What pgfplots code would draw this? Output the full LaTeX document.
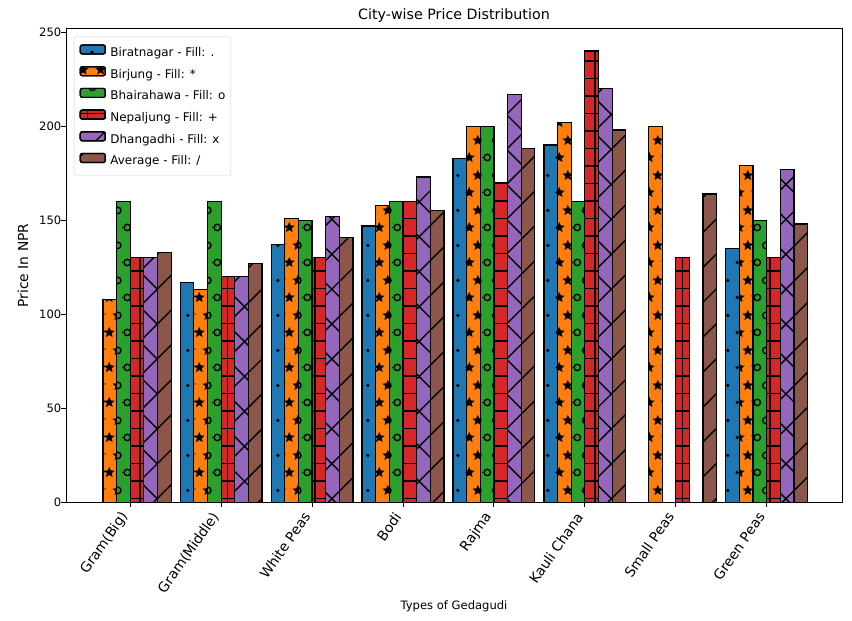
\documentclass[border=0pt]{standalone}
\usepackage{pgfplots}
\pgfplotsset{compat=1.18}
\usepackage{fontspec}
\setmainfont{DejaVu Sans}
\usetikzlibrary{patterns,patterns.meta}

\definecolor{tabblue}{HTML}{1F77B4}
\definecolor{taborange}{HTML}{FF7F0E}
\definecolor{tabgreen}{HTML}{2CA02C}
\definecolor{tabred}{HTML}{D62728}
\definecolor{tabpurple}{HTML}{9467BD}
\definecolor{tabbrown}{HTML}{8C564B}

% matplotlib-like hatches: staggered rows 17.5bp apart
\tikzdeclarepattern{
  name=hdots, type=uncolored,
  bottom left={(0bp,0bp)}, top right={(17.5bp,35bp)},
  tile size={(17.5bp,35bp)},
  code={
    \foreach \dx in {-17.5,0,17.5} {
      \fill (\dx bp+4.4bp,8.75bp) circle (1.9bp);
      \fill (\dx bp+13.15bp,26.25bp) circle (1.9bp);
    }
  }
}
\tikzdeclarepattern{
  name=hcircles, type=uncolored,
  bottom left={(0bp,0bp)}, top right={(17.5bp,35bp)},
  tile size={(17.5bp,35bp)},
  code={
    \foreach \dx in {-17.5,0,17.5} {
      \draw[line width=1.4bp] (\dx bp+4.4bp,8.75bp) circle (3.3bp);
      \draw[line width=1.4bp] (\dx bp+13.15bp,26.25bp) circle (3.3bp);
    }
  }
}
\tikzdeclarepattern{
  name=hstars, type=uncolored,
  bottom left={(0bp,0bp)}, top right={(17.5bp,35bp)},
  tile size={(17.5bp,35bp)},
  code={
    \foreach \dx/\dy in {-17.5/8.75,0/8.75,17.5/8.75,-8.75/26.25,8.75/26.25,26.25/26.25} {
      \fill[shift={(\dx bp+4.4bp,\dy bp)}] (90:5.8bp) -- (126:2.6bp) -- (162:5.8bp)
        -- (198:2.6bp) -- (234:5.8bp) -- (270:2.6bp) -- (306:5.8bp) -- (342:2.6bp)
        -- (18:5.8bp) -- (54:2.6bp) -- cycle;
    }
  }
}

\pgfplotstableread{
x   biratnagar birjung bhairahawa nepaljung dhangadhi average
0   nan        108     160        130       130       133
1   117        113     160        120       120       127
2   137        151     150        130       152       141
3   147        158     160        160       173       155
4   183        200     200        170       217       188
5   190        202     160        240       220       198
6   nan        200     nan        130       nan       164
7   135        179     150        130       177       148
}\prices

\pgfplotsset{
  mplbar/.style={ybar, bar width=0.15, draw=black, line width=1.2bp,
    legend image code/.code={
      \draw[##1, bar shift=0pt] (0bp,-1bp) rectangle (25bp,8bp);
      \path (29.5bp,0bp);
    }},
}

\begin{document}
\begin{tikzpicture}
\path[use as bounding box] (-66bp,-118.7bp) rectangle (786bp,502.3bp);
\begin{axis}[
  at={(0bp,0bp)}, anchor=south west,
  scale only axis, width=776bp, height=473.8bp,
  xmin=-0.706, xmax=7.828, ymin=0, ymax=252,
  xtick={0,...,7},
  xticklabels={Gram(Big),Gram(Middle),White Peas,Bodi,Rajma,Kauli Chana,Small Peas,Green Peas},
  ytick={0,50,...,250},
  tick align=outside, tick pos=left,
  major tick length=4.5bp,
  tick style={black, line width=0.9bp},
  axis line style={black, line width=0.9bp},
  /pgf/number format/assume math mode=true,
  yticklabel style={anchor=east, inner sep=0pt, font=\fontsize{11.6}{13}\selectfont},
  xticklabel style={rotate=55, anchor=east, inner sep=0pt, xshift=-8.8bp, yshift=0.1bp,
    font=\fontsize{13.9}{16}\selectfont},
  title={City-wise Price Distribution},
  title style={at={(0.5,1)}, anchor=base, yshift=3bp, font=\fontsize{14.3}{17}\selectfont},
  xlabel={Types of Gedagudi},
  xlabel style={at={(axis description cs:0.5,0)}, anchor=center, yshift=-103.7bp, font=\fontsize{11.6}{13}\selectfont},
  ylabel={Price In NPR},
  ylabel style={at={(axis description cs:-0.0554,0.5)}, anchor=center, font=\fontsize{13.9}{16}\selectfont},
  legend style={at={(axis description cs:0.0103,0.9827)}, anchor=north west,
    draw=black!18, rounded corners=2bp, fill=white,
    font=\fontsize{12}{14}\selectfont,
    inner xsep=5.5bp, inner ysep=7.5bp, row sep=6.6bp,
    nodes={inner sep=0pt, text height=10bp, text depth=3bp}},
  legend cell align=left,
]
\addplot[mplbar, bar shift=-0.375, fill=tabblue, postaction={pattern=hdots}]
  table[x=x, y=biratnagar] {\prices};
\addlegendentry{Biratnagar - Fill: .}
\addplot[mplbar, bar shift=-0.225, fill=taborange, postaction={pattern=hstars}]
  table[x=x, y=birjung] {\prices};
\addlegendentry{Birjung - Fill: *}
\addplot[mplbar, bar shift=-0.075, fill=tabgreen, postaction={pattern=hcircles}]
  table[x=x, y=bhairahawa] {\prices};
\addlegendentry{Bhairahawa - Fill: o}
\addplot[mplbar, bar shift=0.075, fill=tabred,
  postaction={pattern={Lines[angle=0,distance=17.5bp,line width=1.4bp]}},
  postaction={pattern={Lines[angle=90,distance=17.5bp,line width=1.4bp]}}]
  table[x=x, y=nepaljung] {\prices};
\addlegendentry{Nepaljung - Fill: +}
\addplot[mplbar, bar shift=0.225, fill=tabpurple,
  postaction={pattern={Lines[angle=45,distance=24.7bp,line width=1.4bp]}},
  postaction={pattern={Lines[angle=-45,distance=24.7bp,line width=1.4bp]}}]
  table[x=x, y=dhangadhi] {\prices};
\addlegendentry{Dhangadhi - Fill: x}
\addplot[mplbar, bar shift=0.375, fill=tabbrown,
  postaction={pattern={Lines[angle=45,distance=24.7bp,line width=1.4bp]}}]
  table[x=x, y=average] {\prices};
\addlegendentry{Average - Fill: /}
\end{axis}
\end{tikzpicture}
\end{document}
